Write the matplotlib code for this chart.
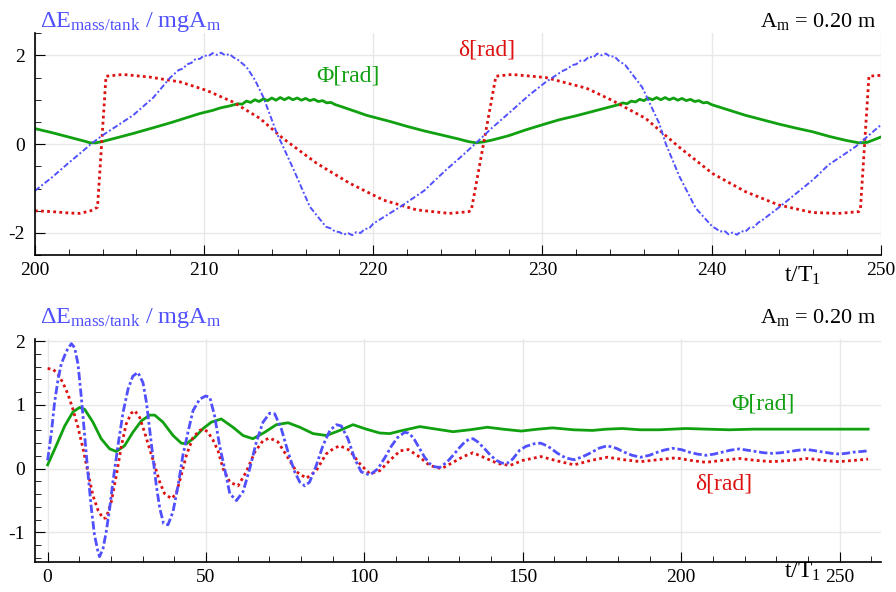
import numpy as np
import matplotlib
matplotlib.use("Agg")
import matplotlib.pyplot as plt
from matplotlib.ticker import MultipleLocator

plt.rcParams['font.family'] = ['Liberation Serif', 'DejaVu Serif']
plt.rcParams['mathtext.fontset'] = 'custom'
plt.rcParams['mathtext.rm'] = 'Liberation Serif'
plt.rcParams['mathtext.it'] = 'Liberation Serif:italic'
plt.rcParams['axes.unicode_minus'] = False

# ---- top panel: t/T1 = 200..250 ----
t_dE_top = [200, 201, 202, 203, 203.3, 204, 205, 205.8, 207, 208,
            208.5, 208.75, 209, 209.25, 209.5, 209.75, 210, 210.25, 210.5, 210.75,
            211, 211.25, 211.5, 211.75, 212, 212.5, 213, 213.5, 214, 214.3,
            214.6, 215.3, 216.25, 217.2, 217.5, 217.75, 218, 218.25, 218.5, 218.75,
            219, 219.25, 219.5, 219.75, 220, 221.6, 223, 224.3, 225.2, 226.06,
            227, 228.2, 229.2, 230.2, 231.2, 231.5, 231.75, 232, 232.25, 232.5,
            232.75, 233, 233.25, 233.5, 233.75, 234, 234.25, 234.5, 234.9, 235.9,
            236.9, 237.3, 238.1, 239.06, 240.05, 240.25, 240.5, 240.75, 241, 241.25,
            241.5, 241.75, 242, 242.25, 242.5, 242.75, 243, 244, 245, 246,
            246.9, 248.5, 250]
dE_top = [-1.05, -0.75, -0.42, -0.1, 0.0, 0.2, 0.45, 0.65, 1.05, 1.5,
          1.67, 1.70, 1.80, 1.83, 1.92, 1.92, 2.0, 1.98, 2.05, 2.01,
          2.06, 2.0, 2.03, 1.95, 1.9, 1.74, 1.45, 1.06, 0.55, 0.24,
          0.0, -0.58, -1.41, -1.86, -1.9, -1.97, -1.98, -2.04, -2.0, -2.05,
          -1.98, -2.0, -1.91, -1.9, -1.79, -1.41, -1.05, -0.58, -0.28, 0.02,
          0.36, 0.76, 1.1, 1.4, 1.65, 1.7, 1.78, 1.8, 1.88, 1.88,
          1.97, 1.95, 2.04, 2.0, 2.04, 1.97, 1.98, 1.88, 1.78, 1.28,
          0.47, 0.0, -0.73, -1.44, -1.86, -1.9, -1.97, -1.95, -2.03, -1.99,
          -2.04, -1.96, -1.97, -1.88, -1.87, -1.77, -1.71, -1.42, -1.11, -0.8,
          -0.47, -0.06, 0.43]

t_delta_top = [200, 201, 202, 202.66, 203.3, 203.7, 204.2, 205.2, 206.8, 208.6, 210.15, 211.7,
               213.3, 214.66, 216.65, 218.6, 220.6, 222.56, 224.5, 225.65, 225.8, 227.25, 228.2,
               230.2, 232.6, 234.1, 236.1, 238.06, 240.05, 242, 243.97, 245.96, 247.5, 248.7,
               248.8, 249.3, 250]
delta_top = [-1.5, -1.52, -1.55, -1.56, -1.5, -1.42, 1.53, 1.57, 1.51, 1.4, 1.21, 0.95,
             0.58, 0.13, -0.43, -0.88, -1.26, -1.48, -1.56, -1.52, -1.48, 1.53, 1.57,
             1.5, 1.26, 0.99, 0.58, -0.06, -0.66, -1.07, -1.37, -1.54, -1.56, -1.52,
             -1.45, 1.53, 1.55]

t_phi_top = [200, 201, 202, 203, 203.25, 203.6, 204, 205, 205.8, 207, 208, 209, 209.75, 210.5,
             211, 211.5, 212, 212.25, 212.5, 212.75, 213, 213.25, 213.5, 213.75, 214, 214.25,
             214.5, 214.75, 215, 215.25, 215.5, 215.75, 216, 216.25, 216.5, 216.75, 217,
             217.25, 217.5, 217.75, 218, 219, 219.6, 220, 221, 222, 223, 224, 225, 225.6,
             226.06, 226.5, 227, 228, 229, 230.2, 231, 232, 233, 234.1, 234.5, 234.75, 235,
             235.25, 235.5, 235.75, 236, 236.25, 236.5, 236.75, 237, 237.25, 237.5, 237.75,
             238, 238.25, 238.5, 238.75, 239, 239.25, 239.5, 239.75, 240, 241, 242, 243, 244,
             245, 245.96, 247, 248, 248.7, 249.2, 250]
phi_top = [0.35, 0.26, 0.16, 0.06, 0.03, 0.03, 0.06, 0.16, 0.24, 0.37, 0.48, 0.6, 0.69, 0.76,
           0.82, 0.86, 0.91, 0.90, 0.97, 0.94, 1.0, 0.96, 1.02, 0.98, 1.04, 0.99,
           1.05, 1.0, 1.05, 1.0, 1.04, 0.99, 1.03, 0.98, 1.01, 0.96, 0.98,
           0.93, 0.94, 0.89, 0.86, 0.73, 0.65, 0.61, 0.51, 0.4, 0.3, 0.21, 0.12, 0.06,
           0.03, 0.05, 0.09, 0.19, 0.32, 0.46, 0.55, 0.64, 0.74, 0.85, 0.89, 0.93, 0.91,
           0.97, 0.95, 1.01, 0.98, 1.04, 1.0, 1.05, 1.0, 1.05, 1.0, 1.04,
           0.99, 1.03, 0.98, 1.01, 0.96, 0.98, 0.93, 0.94, 0.89, 0.77, 0.65, 0.55, 0.45,
           0.36, 0.28, 0.17, 0.08, 0.03, 0.04, 0.16]

# ---- bottom panel: t/T1 = 0..260 ----
t_dE_bot = [0, 1.2, 2.2, 3.3, 4.3, 5.9, 7.5, 8.5, 9.6, 10.6,
            11.7, 12.7, 13.8, 14.8, 15.9, 16.4, 17.5, 18.5, 19.6, 20.6,
            22.2, 23.8, 25.4, 26.9, 28.5, 30.1, 31.2, 32.2, 33.3, 34.3,
            35.4, 36.6, 38, 39.6, 41.2, 42.7, 44.3, 45.9, 48, 49.9,
            51.2, 52.7, 54.3, 56.3, 57.5, 59.6, 61.7, 63.8, 65.9, 68,
            70.1, 71.7, 73.8, 75.9, 78, 79.6, 81.2, 82.7, 84.8, 86.9,
            89.1, 91.2, 92.7, 94.8, 96.9, 99, 101.7, 104.3, 106.9, 108.6,
            110.5, 112.7, 113.8, 115.4, 117.5, 119, 120.6, 122.2, 123.8, 126,
            128, 130, 131.7, 133, 134.3, 135.8, 138, 139.8, 141.7, 143.3,
            144.9, 146.8, 149, 151, 153.5, 155.7, 158, 161, 163.5, 166.2,
            169, 171.5, 174, 176.7, 179.5, 182, 184.5, 187.2, 190, 192,
            194.5, 197.2, 200, 202.5, 205, 207.8, 210.5, 213, 215.5, 218.3,
            221, 223.5, 226, 228.8, 231.5, 234.4, 237, 239.9, 242.5, 245,
            247.5, 249.9, 252, 254.5, 257, 259]
dE_bot = [0.13, 0.57, 1.04, 1.40, 1.64, 1.84, 1.96, 1.90, 1.64, 1.14,
          0.52, -0.05, -0.62, -1.04, -1.30, -1.38, -1.25, -0.99, -0.62, -0.21,
          0.36, 0.88, 1.25, 1.45, 1.51, 1.35, 1.04, 0.62, 0.16, -0.26,
          -0.62, -0.86, -0.88, -0.67, -0.26, 0.21, 0.57, 0.91, 1.09, 1.14,
          1.12, 0.83, 0.36, -0.10, -0.39, -0.50, -0.36, 0.0, 0.42, 0.73,
          0.87, 0.86, 0.62, 0.26, -0.05, -0.21, -0.27, -0.21, 0.05, 0.36,
          0.60, 0.69, 0.67, 0.47, 0.16, -0.05, -0.10, 0.0, 0.21, 0.36,
          0.49, 0.57, 0.56, 0.49, 0.31, 0.18, 0.08, 0.03, 0.02, 0.10,
          0.21, 0.33, 0.42, 0.46, 0.47, 0.42, 0.31, 0.21, 0.13, 0.09,
          0.08, 0.15, 0.29, 0.35, 0.39, 0.40, 0.35, 0.24, 0.17, 0.14,
          0.19, 0.25, 0.32, 0.36, 0.32, 0.26, 0.21, 0.18, 0.21, 0.25,
          0.29, 0.32, 0.30, 0.26, 0.23, 0.21, 0.23, 0.26, 0.29, 0.31,
          0.29, 0.27, 0.25, 0.24, 0.25, 0.27, 0.29, 0.30, 0.28, 0.26,
          0.24, 0.23, 0.24, 0.26, 0.27, 0.28]

t_delta_bot = [0, 1.7, 3.3, 4.8, 6.4, 8, 9.6, 11.2, 12.7, 14.3,
               15.9, 17.5, 18.5, 20.1, 21.7, 23.3, 24.8, 26.4, 27.5, 29.1,
               30.6, 32.2, 33.8, 35.4, 36.9, 39.1, 40.6, 42.2, 43.8, 45.9,
               48, 49.2, 50.5, 52.2, 53.8, 55.4, 57.5, 60.1, 62.7, 65.4,
               68, 70.1, 72.7, 75.4, 78.6, 81.7, 84.8, 87.9, 90.1, 92.2,
               95.3, 98.5, 101.7, 104.9, 108, 111.3, 113.9, 117.5, 120.6, 124.3,
               128, 131.2, 134.3, 138.5, 142.2, 145.9, 150, 155.7, 161, 166.2,
               171.5, 176.7, 182, 187.2, 192.5, 198.3, 203, 207.8, 213, 218.3,
               223.5, 228.8, 234.4, 239.9, 245, 249.9, 254.5, 259]
delta_bot = [1.57, 1.56, 1.48, 1.35, 1.17, 0.93, 0.65, 0.31, -0.05, -0.42,
             -0.65, -0.78, -0.77, -0.52, -0.10, 0.36, 0.70, 0.87, 0.91, 0.80,
             0.57, 0.31, 0.05, -0.21, -0.39, -0.47, -0.39, -0.10, 0.21, 0.49,
             0.60, 0.62, 0.58, 0.45, 0.28, 0.0, -0.21, -0.27, -0.05, 0.26,
             0.44, 0.48, 0.42, 0.21, -0.05, -0.15, -0.03, 0.23, 0.31, 0.36,
             0.29, 0.08, -0.08, -0.03, 0.13, 0.28, 0.30, 0.18, 0.05, 0.0,
             0.10, 0.19, 0.25, 0.16, 0.08, 0.05, 0.13, 0.19, 0.12, 0.06,
             0.13, 0.18, 0.14, 0.11, 0.14, 0.17, 0.13, 0.10, 0.13, 0.16,
             0.13, 0.11, 0.13, 0.16, 0.13, 0.11, 0.13, 0.15]

t_phi_bot = [0, 2.7, 5.4, 8, 10.1, 11.7, 14.3, 16.9, 19.6, 21.7,
             24.3, 26.9, 29.6, 32.2, 33.8, 36.4, 39.6, 42.2, 43.8, 46.4,
             49.1, 51.7, 54.8, 58.5, 61.7, 64.8, 68.5, 72.2, 75.9, 79.6,
             83.8, 88, 92.2, 96.4, 100.6, 104.8, 108, 111.2, 117.5, 122.7,
             128, 133.3, 138.8, 143.7, 149.5, 154.8, 159.4, 166, 172, 176.5,
             181.4, 187, 193, 201.5, 208, 215.2, 223, 231, 240, 250, 259]
phi_bot = [0.06, 0.36, 0.67, 0.89, 0.96, 0.93, 0.73, 0.47, 0.31, 0.27,
           0.36, 0.57, 0.75, 0.84, 0.84, 0.73, 0.52, 0.40, 0.39, 0.49,
           0.63, 0.73, 0.78, 0.65, 0.52, 0.47, 0.57, 0.69, 0.72, 0.65,
           0.55, 0.52, 0.60, 0.69, 0.62, 0.56, 0.55, 0.59, 0.66, 0.62,
           0.58, 0.61, 0.65, 0.62, 0.59, 0.62, 0.64, 0.61, 0.60, 0.62,
           0.63, 0.61, 0.61, 0.63, 0.62, 0.61, 0.62, 0.62, 0.62, 0.62, 0.62]

BLUE = '#5050ff'
RED = '#dd1111'
GREEN = '#10a010'
ylab = r'$\Delta\mathrm{E}_{\mathrm{mass/tank}}$ / mgA$_{\mathrm{m}}$'
amp = r'A$_{\mathrm{m}}$ = 0.20 m'

fig = plt.figure(figsize=(8.96, 5.92), dpi=100)
ax1 = fig.add_axes([0.039, 0.569, 0.944, 0.375])
ax2 = fig.add_axes([0.039, 0.051, 0.944, 0.376])


def style(ax):
    for s in ['top', 'right']:
        ax.spines[s].set_visible(False)
    for s in ['left', 'bottom']:
        ax.spines[s].set_linewidth(1.2)
    ax.tick_params(which='both', direction='in', labelsize=14, pad=5)
    ax.tick_params(axis='y', which='both', pad=7)
    ax.tick_params(which='major', length=7)
    ax.tick_params(which='minor', length=4)
    ax.grid(True, which='major', color='#e8e8e8', linewidth=1)
    ax.set_axisbelow(True)


# top
ax1.plot(t_phi_top, phi_top, color=GREEN, lw=2)
ax1.plot(t_delta_top, delta_top, color=RED, lw=2, linestyle=(0, (1, 1.2)))
ax1.plot(t_dE_top, dE_top, color=BLUE, lw=1.4, linestyle=(0, (3, 1.2, 1, 1.2)))
ax1.set_xlim(200, 250)
ax1.set_ylim(-2.5, 2.5)
ax1.xaxis.set_major_locator(MultipleLocator(10))
ax1.xaxis.set_minor_locator(MultipleLocator(2))
ax1.yaxis.set_major_locator(MultipleLocator(2))
ax1.yaxis.set_minor_locator(MultipleLocator(0.5))
style(ax1)
ax1.text(218.5, 1.53, 'Φ[rad]', color=GREEN, fontsize=17, ha='center', va='center')
ax1.text(226.7, 2.11, 'δ[rad]', color=RED, fontsize=17, ha='center', va='center')

# bottom
ax2.plot(t_phi_bot, phi_bot, color=GREEN, lw=2)
ax2.plot(t_delta_bot, delta_bot, color=RED, lw=2, linestyle=(0, (1, 1.2)))
ax2.plot(t_dE_bot, dE_bot, color=BLUE, lw=2.0, linestyle=(0, (3, 1, 1, 1)))
ax2.set_xlim(-4, 263)
ax2.set_ylim(-1.46, 2.03)
ax2.xaxis.set_major_locator(MultipleLocator(50))
ax2.xaxis.set_minor_locator(MultipleLocator(10))
ax2.yaxis.set_major_locator(MultipleLocator(1))
ax2.yaxis.set_minor_locator(MultipleLocator(0.2))
style(ax2)
ax2.text(225.8, 1.01, 'Φ[rad]', color=GREEN, fontsize=17, ha='center', va='center')
ax2.text(213.3, -0.24, 'δ[rad]', color=RED, fontsize=17, ha='center', va='center')

# labels in figure pixels
for ytop in [0, 296]:
    fig.text(40 / 896, 1 - (ytop + 27) / 592, ylab, color=BLUE, fontsize=17.5, ha='left', va='baseline')
    fig.text(876 / 896, 1 - (ytop + 27) / 592, amp, color='black', fontsize=16, ha='right', va='baseline')
    fig.text(803 / 896, 1 - (ytop + 282) / 592, r't/T$_{1}$', color='black', fontsize=17,
             ha='center', va='baseline')

fig.savefig('out.png', dpi=100)
